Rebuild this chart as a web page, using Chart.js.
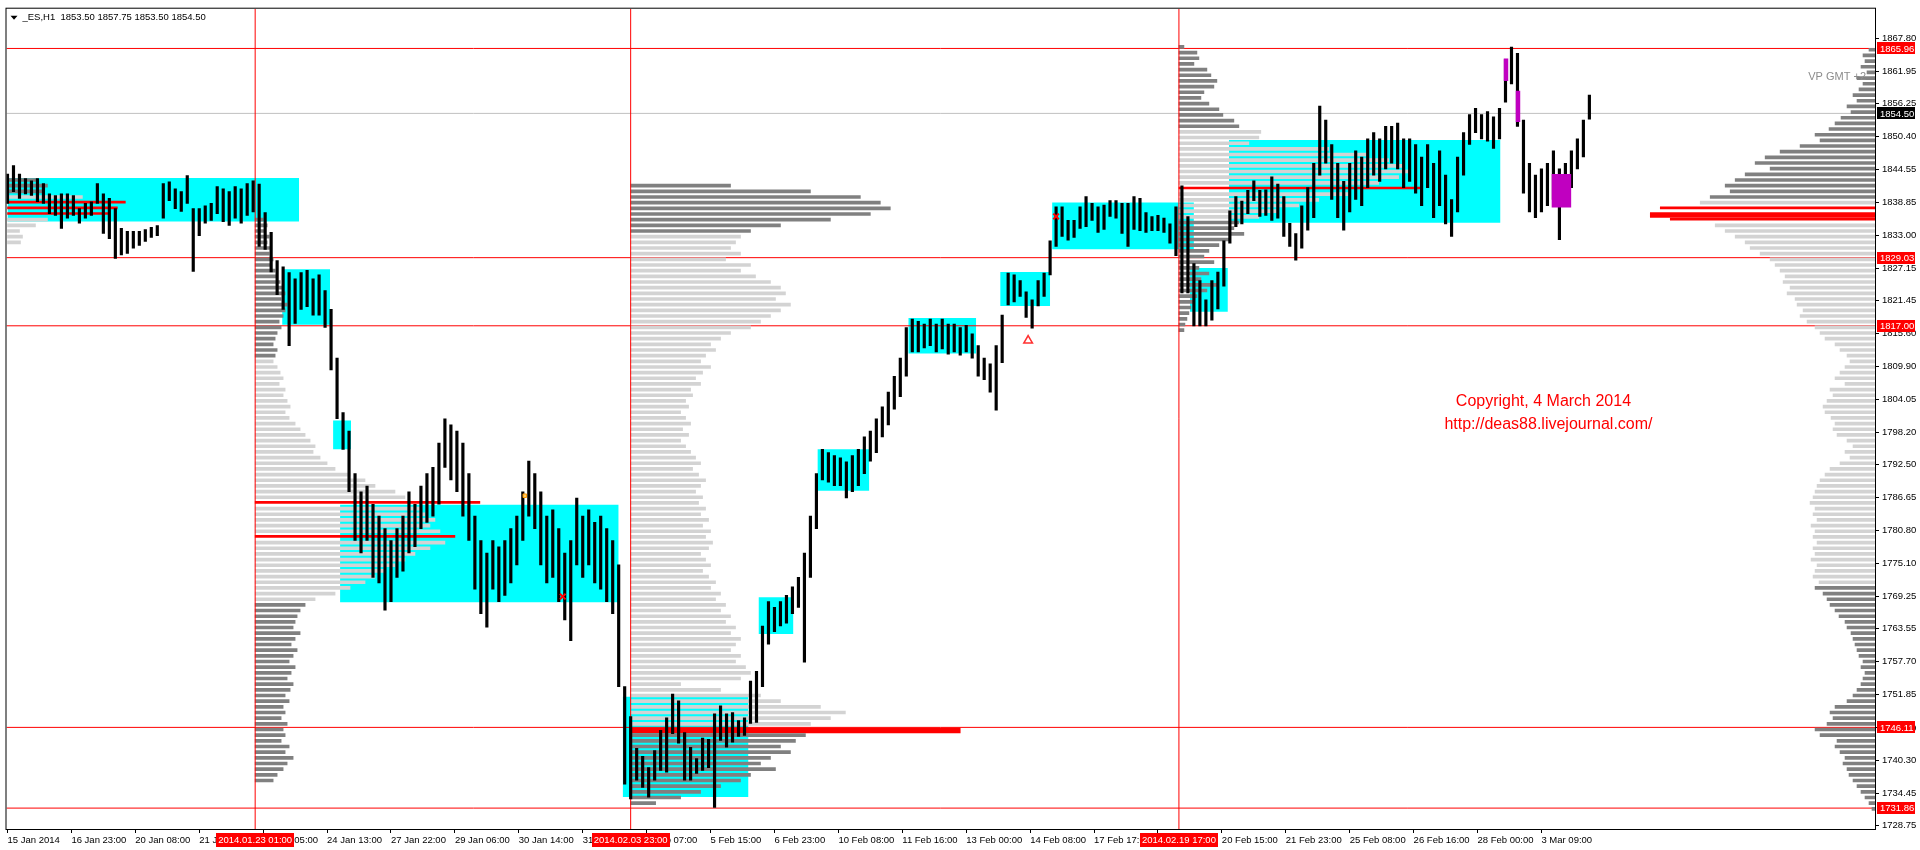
<!DOCTYPE html>
<html>
<head>
<meta charset="utf-8">
<title>_ES,H1</title>
<script src="https://cdn.jsdelivr.net/npm/chart.js@4.4.1/dist/chart.umd.min.js"></script>
<style>
  html, body { margin: 0; padding: 0; background: #fff; }
  canvas { display: block; }
</style>
</head>
<body>
<canvas id="chart" width="1920" height="850"></canvas>
<script>
// one bar every 3 hourly bars; hour index of bar k is k * 3
const barHigh = [
  // 15 Jan - 23 Jan
  1843.8,1845.3,1843.8,1843.0,1842.6,1843.0,1842.1,1840.3,1840.0,1840.3,1840.3,1840.0,1837.7,1838.6,1838.9,1842.1,1840.3,1839.5,1837.7,1834.2,1833.7,1833.7,1833.7,1834.0,1834.4,1834.7,1842.1,1842.4,1841.2,1840.7,1843.5,1837.7,1837.7,1838.2,1838.6,1841.6,1841.2,1840.7,1841.6,1841.2,1842.1,1842.6,
  // 23 Jan - 3 Feb
  1842.0,1837.0,1833.5,1828.5,1827.4,1826.4,1825.3,1826.4,1826.8,1825.3,1826.0,1823.2,1819.9,1811.3,1801.7,1798.4,1790.9,1787.7,1788.7,1785.5,1783.4,1781.2,1779.1,1781.2,1783.4,1787.7,1785.5,1788.7,1790.9,1792.0,1796.3,1800.6,1799.5,1798.4,1796.3,1790.9,1783.4,1779.1,1776.9,1779.1,1778.0,1779.1,1781.2,1783.4,1787.7,1793.1,1790.9,1787.7,1783.4,1784.5,1781.2,1776.9,1779.1,1786.6,1783.4,1784.5,1782.3,1783.4,1781.2,1779.1,1774.8,1753.3,
  // 3 Feb - 19 Feb
  1748.0,1742.4,1741.0,1739.0,1742.0,1745.6,1747.8,1752.0,1750.8,1745.2,
  1742.6,1740.6,1744.2,1744.0,1748.5,1749.9,1748.5,1748.7,1747.3,1747.8,
  1754.3,1756.0,1764.0,1768.3,1767.3,1768.3,1769.4,1770.9,1772.6,1776.9,
  1783.4,1790.9,1795.2,1794.6,1794.1,1793.7,1793.0,1794.1,1795.2,1797.4,
  1798.4,1800.6,1802.7,1805.3,1808.1,1811.3,1816.7,1818.2,1817.8,1817.3,
  1818.2,1817.3,1818.2,1817.3,1817.3,1816.7,1817.1,1815.6,1813.5,1811.3,
  1810.3,1813.5,1818.9,1826.3,1826.0,1825.0,1823.0,1821.6,1825.0,1826.3,
  1832.0,1838.0,1838.0,1835.6,1835.6,1838.0,1839.8,1838.6,1838.0,1838.3,
  1839.1,1839.1,1838.6,1838.6,1839.8,1839.5,1837.0,1836.3,1836.5,1836.0,
  1835.0,1838.0,
  // 19 Feb - 4 Mar
  1841.7,1836.3,1828.0,1825.0,1821.6,1825.0,1826.5,1832.0,1837.3,1839.8,
  1839.0,1840.9,1842.6,1840.9,1841.0,1843.3,1842.0,1839.8,1835.1,1833.3,
  1838.2,1841.4,1845.7,1855.8,1853.3,1849.0,1845.7,1842.5,1845.7,1847.9,
  1846.8,1850.0,1851.1,1850.0,1852.2,1852.2,1852.8,1850.0,1850.0,1849.0,
  1846.8,1849.0,1845.7,1847.9,1843.6,1839.3,1846.8,1851.1,1854.3,1855.4,
  1854.3,1854.8,1853.9,1855.4,1864.0,1866.2,1865.1,1853.3,1845.7,1843.6,
  1844.7,1845.7,1847.9,1844.7,1845.7,1847.9,1850.0,1853.3,1857.75
];
const barLow = [
  1838.6,1840.7,1839.5,1840.3,1840.0,1838.9,1838.6,1836.8,1836.5,1834.2,1836.0,1836.5,1835.1,1836.0,1836.5,1838.6,1833.3,1832.4,1828.9,1829.5,1829.8,1830.7,1831.2,1831.9,1832.6,1832.9,1836.0,1839.1,1837.7,1837.2,1838.6,1826.6,1832.9,1835.1,1835.6,1836.8,1835.4,1834.7,1836.0,1835.1,1836.5,1837.1,
  1831.0,1830.5,1826.5,1822.5,1819.9,1813.5,1817.4,1819.9,1820.4,1818.9,1818.9,1816.7,1809.2,1800.6,1795.2,1787.7,1779.1,1776.9,1779.1,1772.6,1771.6,1766.8,1768.3,1772.6,1773.7,1776.9,1778.0,1781.2,1782.3,1783.4,1785.5,1792.0,1789.8,1787.7,1783.4,1779.1,1770.5,1766.2,1763.8,1770.5,1768.3,1769.4,1771.6,1774.8,1779.1,1783.4,1781.2,1774.8,1771.6,1772.6,1768.3,1765.1,1761.4,1774.8,1772.6,1774.8,1771.6,1770.5,1768.3,1766.2,1753.3,1736.1,
  1733.5,1736.8,1735.5,1733.8,1736.8,1738.5,1738.2,1745.0,1743.3,1736.8,
  1736.8,1738.0,1738.5,1739.0,1732.0,1743.8,1742.6,1743.5,1744.5,1744.7,
  1746.8,1747.0,1753.3,1760.8,1763.0,1764.0,1764.5,1766.2,1767.3,1757.6,
  1772.6,1781.2,1789.8,1789.4,1788.8,1788.8,1786.6,1787.7,1788.8,1790.9,
  1793.1,1794.6,1797.4,1799.5,1802.3,1804.5,1808.1,1812.4,1812.4,1813.1,
  1813.5,1812.4,1812.9,1812.0,1812.4,1811.8,1812.4,1811.3,1808.1,1807.5,
  1805.3,1802.1,1810.5,1820.7,1821.2,1822.2,1818.5,1816.6,1820.5,1822.2,
  1826.0,1831.0,1832.8,1832.1,1832.6,1834.2,1834.5,1835.6,1833.5,1834.0,
  1836.3,1836.0,1833.3,1831.0,1834.0,1833.8,1833.5,1833.8,1833.8,1833.5,
  1831.6,1829.4,
  1822.8,1822.8,1817.0,1817.0,1817.0,1818.0,1820.0,1824.0,1831.6,1834.5,
  1835.0,1836.8,1839.1,1836.3,1836.5,1835.6,1836.0,1832.8,1831.0,1828.6,
  1830.7,1833.9,1836.1,1843.6,1845.7,1839.3,1836.1,1833.9,1837.1,1839.3,
  1838.2,1841.4,1843.6,1842.5,1844.7,1845.7,1844.7,1841.4,1842.5,1840.4,
  1838.2,1841.4,1836.1,1838.2,1835.0,1832.8,1837.1,1843.6,1849.0,1851.1,
  1850.0,1849.6,1848.3,1850.0,1856.5,1859.7,1852.2,1840.4,1837.1,1836.1,
  1837.1,1838.2,1839.3,1832.2,1838.2,1841.4,1844.7,1846.8,1853.5
];

const xTickHours = [0, 32, 64, 96, 128, 160, 192, 224, 256, 288, 320, 352, 384, 416, 448, 480, 512, 544, 576, 608, 640, 672, 704, 736, 768];
const xTickLabels = ['15 Jan 2014', '16 Jan 23:00', '20 Jan 08:00', '21 Jan 21:00', '23 Jan 05:00', '24 Jan 13:00', '27 Jan 22:00',
  '29 Jan 06:00', '30 Jan 14:00', '31 Jan 22:00', '4 Feb 07:00', '5 Feb 15:00', '6 Feb 23:00', '10 Feb 08:00', '11 Feb 16:00',
  '13 Feb 00:00', '14 Feb 08:00', '17 Feb 17:00', '19 Feb 01:00', '20 Feb 15:00', '21 Feb 23:00', '25 Feb 08:00', '26 Feb 16:00',
  '28 Feb 00:00', '3 Mar 09:00'];
const yTickValues = [1867.80, 1861.95, 1856.25, 1850.40, 1844.55, 1838.85, 1833.00, 1827.15, 1821.45, 1815.60, 1809.90, 1804.05,
  1798.20, 1792.50, 1786.65, 1780.80, 1775.10, 1769.25, 1763.55, 1757.70, 1751.85, 1746.00, 1740.30, 1734.45, 1728.75];

const priceMin = 1728.17, priceMax = 1872.98;
const hourMin = -0.5, hourMax = 935;

const levelPrices = [1865.96, 1829.03, 1817.00, 1746.11, 1731.86];
const lastPrice = 1854.50;
const header = '_ES,H1  1853.50 1857.75 1853.50 1854.50';
const sessionHours = [124, 312, 586.5];
const sessionLabels = ['2014.01.23 01:00', '2014.02.03 23:00', '2014.02.19 17:00'];

// value area boxes
const boxFrom   = [0, 137.5, 163, 166.5, 308, 376, 405.5, 451, 497, 523, 592, 611.5];
const boxTo     = [146, 161.5, 172, 306, 371, 393.5, 431.5, 485, 522, 594, 611, 747.5];
const boxTop    = [1843.1, 1827.0, 1800.3, 1785.4, 1751.5, 1769.1, 1795.2, 1818.4, 1826.5, 1838.75, 1827.2, 1849.8];
const boxBottom = [1835.4, 1817.2, 1795.2, 1768.2, 1733.8, 1762.6, 1787.9, 1812.1, 1820.5, 1830.5, 1819.5, 1835.2];
// magenta boxes
const magFrom   = [749, 755, 773];
const magTo     = [751.5, 757.5, 783];
const magTop    = [1864.2, 1858.5, 1843.8];
const magBottom = [1860.2, 1853.0, 1837.9];

// markers
const crossHours = [278, 525];
const crossPrices = [1769.2, 1836.3];
const arrowHours = [511];
const arrowPrices = [1814.4];
const dotHours = [259];
const dotPrices = [1787.0];

// volume profiles: price of first level, one level per point, volume per level, kind per level
const prof1Top = 1843;
const prof1Vol = [30, 40, 35, 75, 118, 110, 102, 40, 28, 12, 15, 13];
const prof1Kind = 'dddlrrrlllll';

const prof2Top = 1836;
const prof2Vol = [
  8, 12, 10, 14, 12, 16, 14, 18, 15, 20,
  22, 25, 28, 30, 26, 32, 30, 28, 24, 26,
  22, 20, 18, 22, 20, 18, 22, 25, 28, 24,
  30, 28, 32, 35, 30, 34, 40, 45, 50, 55,
  60, 58, 65, 72, 80, 95, 110, 120, 140, 150,
  225, 165, 170, 180, 175, 185, 200, 190, 175, 160,
  150, 140, 130, 120, 110, 95, 80, 60, 50, 45,
  42, 40, 38, 45, 40, 36, 42, 38, 34, 40,
  36, 32, 38, 35, 30, 34, 28, 30, 26, 32,
  28, 30, 26, 34, 30, 38, 32, 28, 22, 18];
const prof2Kind = 'd'.repeat(25) + 'l'.repeat(25) + 'r' + 'l'.repeat(5) + 'r' + 'l'.repeat(11) + 'd'.repeat(32);

const prof3Top = 1842;
const prof3Vol = [
  100, 180, 230, 250, 260, 240, 200, 150, 120, 110,
  105, 100, 110, 95, 120, 110, 125, 140, 150, 155,
  145, 160, 150, 140, 130, 120, 100, 90, 80, 85,
  75, 70, 80, 72, 65, 70, 60, 62, 55, 58,
  50, 55, 60, 52, 58, 50, 55, 60, 65, 70,
  62, 68, 75, 70, 65, 72, 68, 75, 70, 78,
  72, 80, 75, 82, 78, 70, 75, 80, 72, 78,
  85, 80, 90, 85, 95, 90, 100, 95, 105, 100,
  110, 105, 100, 110, 105, 115, 120, 110, 50, 90,
  130, 150, 190, 215, 200, 180, 330, 175, 165, 150,
  160, 140, 130, 145, 120, 110, 90, 70, 50, 25];
const prof3Kind = 'd'.repeat(9) + 'l'.repeat(87) + 'R' + 'd'.repeat(13);

const prof4Top = 1866.5;
const prof4Vol = [
  5, 18, 20, 15, 28, 32, 38, 35, 25, 22,
  30, 40, 44, 55, 60, 82, 80, 70, 150, 190,
  210, 225, 230, 220, 200, 242, 170, 140, 120, 100,
  80, 60, 55, 65, 50, 40, 30, 25, 35, 20, 30,
  22, 38, 28, 18, 15, 12, 10, 8, 6, 5];
const prof4Kind = 'd'.repeat(15) + 'l'.repeat(10) + 'r' + 'l'.repeat(5) + 'd'.repeat(20);

const profRTop = 1866;
const profRVol = [
  6, 12, 10, 14, 8, 18, 12, 16, 22, 18,
  28, 24, 34, 40, 46, 60, 55, 75, 95, 110,
  120, 105, 130, 140, 150, 145, 165, 175,
  215, 225, 205,
  160, 150, 140, 130, 125, 115, 105, 100, 95, 90,
  92, 85, 88, 80, 78, 72, 75, 68, 60, 55,
  50, 40, 35, 28, 25, 30, 35, 40, 30, 45,
  42, 48, 52, 50, 44, 40, 42, 38, 28, 22,
  30, 25, 35, 45, 50, 55, 58, 60, 62, 65,
  60, 62, 58, 64, 60, 62, 58, 62, 60, 64,
  58, 60, 62, 56, 60, 52, 48, 45, 40, 36,
  30, 28, 24, 22, 20, 18, 16, 12, 14, 10,
  12, 14, 18, 22, 28, 40, 45, 42, 48, 60,
  55, 38, 40, 35, 30, 32, 28, 26, 22, 18,
  14, 10, 6, 3];
const profRKind = 'd'.repeat(27) + 'l' + 'rRr' + 'l'.repeat(64) + 'd'.repeat(40);

const volScale = 0.5; // hours of width per volume unit
const kindColor = { d: '#808080', l: '#d3d3d3', r: '#ff0000', R: '#ff0000' };
const kindThick = { d: 3, l: 3, r: 2, R: 5 };

function profileSets(top, vols, kinds, anchor, dir) {
  return ['l', 'd', 'r', 'R'].map(k => ({
    type: 'bar', indexAxis: 'y', xAxisID: 'x2', yAxisID: 'y', stack: 'vp', order: 8,
    backgroundColor: kindColor[k], barThickness: kindThick[k],
    data: vols.map((v, j) => kinds[j] !== k ? null : {
      y: top - j,
      x: dir > 0 ? [anchor, anchor + v * volScale] : [anchor - v * volScale, anchor]
    }).filter(Boolean)
  })).filter(ds => ds.data.length);
}

function boxSets(from, to, top, bottom, color) {
  return from.map((f, k) => ({
    type: 'line', order: 10, data: [{ x: f, y: top[k] }, { x: to[k], y: top[k] }],
    fill: { value: bottom[k] }, backgroundColor: color, borderColor: 'rgba(0,0,0,0)', borderWidth: 0, pointRadius: 0
  }));
}

function hLine(p, color, order) {
  return { type: 'line', order, data: [{ x: hourMin, y: p }, { x: hourMax, y: p }], borderColor: color, borderWidth: 1, pointRadius: 0, fill: false };
}

const datasets = [
  ...boxSets(boxFrom, boxTo, boxTop, boxBottom, '#00ffff'),
  hLine(lastPrice, '#c0c0c0', 9),
  ...levelPrices.map(p => hLine(p, '#ff0000', 9)),
  ...profileSets(prof1Top, prof1Vol, prof1Kind, 0, 1),
  ...profileSets(prof2Top, prof2Vol, prof2Kind, sessionHours[0], 1),
  ...profileSets(prof3Top, prof3Vol, prof3Kind, sessionHours[1], 1),
  ...profileSets(prof4Top, prof4Vol, prof4Kind, sessionHours[2], 1),
  ...profileSets(profRTop, profRVol, profRKind, hourMax, -1),
  ...sessionHours.map(h => ({
    type: 'line', order: 5, data: [{ x: h, y: priceMin }, { x: h, y: priceMax }],
    borderColor: '#ff0000', borderWidth: 1, pointRadius: 0, fill: false
  })),
  {
    type: 'bar', order: 3, xAxisID: 'x', yAxisID: 'y', grouped: false,
    data: barLow.map((lo, k) => ({ x: k * 3, y: [lo, barHigh[k]] })),
    backgroundColor: '#000', barThickness: 2.5, maxBarThickness: 2.5
  },
  ...boxSets(magFrom, magTo, magTop, magBottom, '#c000c0').map(d => Object.assign(d, { order: 2 })),
  {
    type: 'line', order: 1, showLine: false, data: crossHours.map((h, k) => ({ x: h, y: crossPrices[k] })),
    pointStyle: 'crossRot', pointRadius: 4, borderColor: '#ff0000', borderWidth: 2
  },
  {
    type: 'line', order: 1, showLine: false, data: arrowHours.map((h, k) => ({ x: h, y: arrowPrices[k] })),
    pointStyle: 'triangle', pointRadius: 5, borderColor: '#ff3030', backgroundColor: '#ffffff', borderWidth: 1.5
  },
  {
    type: 'line', order: 1, showLine: false, data: dotHours.map((h, k) => ({ x: h, y: dotPrices[k] })),
    pointStyle: 'rect', pointRadius: 2.5, borderColor: '#ff9900', backgroundColor: '#ffcc66', borderWidth: 1
  }
];

const FONT = '"Liberation Sans", Arial, sans-serif';

const overlay = {
  id: 'overlay',
  afterDraw(chart) {
    const { ctx, chartArea: a, scales } = chart;
    const x = scales.x, y = scales.y;
    ctx.save();
    ctx.strokeStyle = '#000';
    ctx.lineWidth = 1;
    ctx.strokeRect(a.left - 0.5, a.top - 0.5, a.right - a.left + 1, a.bottom - a.top + 1);

    // header
    ctx.fillStyle = '#000';
    ctx.beginPath();
    ctx.moveTo(a.left + 4, a.top + 7); ctx.lineTo(a.left + 11, a.top + 7); ctx.lineTo(a.left + 7.5, a.top + 11);
    ctx.closePath(); ctx.fill();
    ctx.font = '9.5px ' + FONT;
    ctx.textBaseline = 'middle';
    ctx.textAlign = 'left';
    ctx.fillText(header, a.left + 16, a.top + 9);

    // price labels
    const tag = (p, bg, txt) => {
      const py = y.getPixelForValue(p);
      ctx.fillStyle = bg;
      ctx.fillRect(a.right + 2, Math.round(py) - 6, 38, 12);
      ctx.fillStyle = txt;
      ctx.fillText(p.toFixed(2), a.right + 5, py + 0.5);
    };
    levelPrices.forEach(p => tag(p, '#ff0000', '#fff'));
    tag(lastPrice, '#000', '#fff');

    // session start labels
    ctx.textAlign = 'center';
    sessionHours.forEach((h, k) => {
      const px = x.getPixelForValue(h);
      ctx.fillStyle = '#ff0000';
      ctx.fillRect(Math.round(px) - 39, a.bottom + 4, 78, 14);
      ctx.fillStyle = '#fff';
      ctx.fillText(sessionLabels[k], px, a.bottom + 11.5);
    });

    // notes
    ctx.fillStyle = '#ff0000';
    ctx.font = '16px ' + FONT;
    ctx.fillText('Copyright, 4 March 2014', x.getPixelForValue(769), y.getPixelForValue(1803.6));
    ctx.fillText('http://deas88.livejournal.com/', x.getPixelForValue(771.5), y.getPixelForValue(1799.5));
    ctx.fillStyle = '#8c8c8c';
    ctx.font = '11px ' + FONT;
    ctx.textAlign = 'right';
    ctx.fillText('VP GMT +2', a.right - 9, a.top + 68);
    ctx.restore();
  }
};

Chart.defaults.font.family = FONT;
Chart.defaults.font.size = 9.5;
Chart.defaults.color = '#000';

new Chart(document.getElementById('chart'), {
  type: 'line',
  data: { datasets },
  options: {
    responsive: false,
    animation: false,
    events: [],
    layout: { padding: { left: 4, top: 4, right: 0, bottom: 0 } },
    plugins: { legend: { display: false }, tooltip: { enabled: false } },
    scales: {
      x: {
        type: 'linear', min: hourMin, max: hourMax, offset: false,
        afterBuildTicks: s => { s.ticks = xTickHours.map(v => ({ value: v })); },
        afterFit: s => { s.height = 21; },
        ticks: { autoSkip: false, maxRotation: 0, align: 'start', padding: 2, callback: (v, i) => xTickLabels[i] },
        grid: { drawOnChartArea: false, tickLength: 4, color: '#000', offset: false },
        border: { display: true, color: '#000' }
      },
      y: {
        type: 'linear', position: 'right', min: priceMin, max: priceMax, offset: false,
        afterBuildTicks: s => { s.ticks = yTickValues.map(v => ({ value: v })); },
        afterFit: s => { s.width = 45; },
        ticks: { autoSkip: false, padding: 3, callback: v => v.toFixed(2) },
        grid: { drawOnChartArea: false, tickLength: 4, color: '#000', offset: false },
        border: { display: true, color: '#000' }
      },
      x2: { type: 'linear', display: false, min: hourMin, max: hourMax, stacked: false, offset: false }
    }
  },
  plugins: [overlay]
});
</script>
</body>
</html>
